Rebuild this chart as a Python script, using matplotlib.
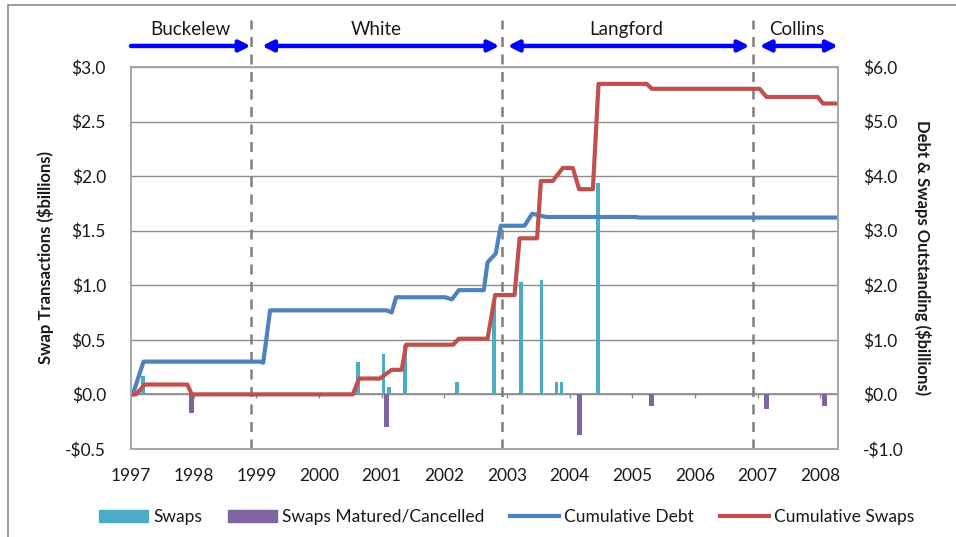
import matplotlib
matplotlib.use("Agg")
import matplotlib.pyplot as plt
from matplotlib.patches import Patch, Rectangle
from matplotlib.lines import Line2D

plt.rcParams['font.family'] = ['Lato', 'DejaVu Sans']

# Swap transactions (left axis, $ billions)
swap_dates = [1997.19, 2000.62, 2001.03, 2001.12, 2001.37, 2002.20, 2002.79,
              2003.22, 2003.55, 2003.79, 2003.87, 2004.45]
swap_vals = [0.17, 0.30, 0.37, 0.07, 0.45, 0.11, 0.85, 1.03, 1.05, 0.11, 0.11, 1.94]

matured_dates = [1997.96, 2001.07, 2004.15, 2005.31, 2007.14, 2008.07]
matured_vals = [-0.17, -0.30, -0.37, -0.11, -0.13, -0.11]

# Outstanding totals (right axis, $ billions)
debt_dates = [1997.03, 1997.20, 1999.06, 1999.11, 1999.22, 2001.08, 2001.16, 2001.23,
              2002.01, 2002.12, 2002.23, 2002.63, 2002.69, 2002.82, 2002.90, 2003.28,
              2003.40, 2003.63, 2005.04, 2005.12, 2008.28]
debt_vals = [0.00, 0.60, 0.60, 0.58, 1.54, 1.54, 1.50, 1.78,
             1.78, 1.74, 1.91, 1.91, 2.42, 2.58, 3.09, 3.09,
             3.31, 3.25, 3.25, 3.24, 3.24]

cum_dates = [1997.03, 1997.08, 1997.22, 1997.90, 1997.97, 2000.54, 2000.64, 2000.97,
             2001.16, 2001.32, 2001.39, 2002.14, 2002.23, 2002.69, 2002.81, 2003.12,
             2003.20, 2003.48, 2003.54, 2003.73, 2003.89, 2004.05, 2004.15, 2004.37,
             2004.46, 2005.23, 2005.31, 2007.03, 2007.14, 2007.96, 2008.04, 2008.28]
cum_vals = [0.00, 0.00, 0.18, 0.18, 0.00, 0.00, 0.29, 0.29,
            0.45, 0.45, 0.91, 0.91, 1.02, 1.02, 1.82, 1.82,
            2.86, 2.86, 3.91, 3.91, 4.15, 4.15, 3.76, 3.76,
            5.69, 5.69, 5.60, 5.60, 5.45, 5.45, 5.33, 5.33]

years = list(range(1997, 2009))
terms = ["Buckelew", "White", "Langford", "Collins"]
term_breaks = [1998.92, 2002.92, 2006.92]
term_spans = [(1997.0, 1998.91), (1999.09, 2002.88), (2003.01, 2006.87), (2007.03, 2008.28)]
term_label_x = [1997.94, 2000.91, 2004.91, 2007.62]

c_swap = '#4BACC6'
c_mat = '#8064A2'
c_debt = '#4F81BD'
c_cum = '#C0504D'
grid_c = '#8C8C8C'
txt_c = '#1a1a1a'

fig = plt.figure(figsize=(9.56, 5.37), dpi=100)
ax = fig.add_axes([0.137, 0.164, 0.7395, 0.7113])
ax2 = ax.twinx()

# frame round the chart (only top and left edges visible in reference)
fig.patches.append(Rectangle((8 / 956, -0.1), 1.2, 1.1 - 5 / 537, transform=fig.transFigure,
                             fill=False, edgecolor='#8a8a8a', lw=1.2))

ax.bar(swap_dates, swap_vals, width=0.06, color=c_swap, zorder=3)
ax.bar(matured_dates, matured_vals, width=0.08, color=c_mat, zorder=3)

ax2.plot(debt_dates, debt_vals, color=c_debt, lw=3.0, solid_joinstyle='round')
ax2.plot(cum_dates, cum_vals, color=c_cum, lw=3.0, solid_joinstyle='round')

ax.set_xlim(1997.0, 2008.28)
ax.set_ylim(-0.5, 3.0)
ax2.set_ylim(-1.0, 6.0)
ax.set_yticks([-0.5, 0, 0.5, 1.0, 1.5, 2.0, 2.5, 3.0])
ax2.set_yticks([-1, 0, 1, 2, 3, 4, 5, 6])


def money(v, pos=None):
    return f"-${-v:.1f}" if v < 0 else f"${v:.1f}"


ax.yaxis.set_major_formatter(money)
ax2.yaxis.set_major_formatter(money)
ax.grid(axis='y', color=grid_c, lw=1.0, zorder=0)
ax.set_axisbelow(True)
ax.axhline(0, color=grid_c, lw=1.2, zorder=1)

ax.set_xticks(years)
ax.set_xticklabels([str(y) for y in years])
ax.tick_params(axis='x', length=0, pad=14, labelsize=12.5, labelcolor=txt_c)
ax.tick_params(axis='y', length=0, pad=18, labelsize=12.5, labelcolor=txt_c)
ax2.tick_params(axis='y', length=0, pad=18, labelsize=12.5, labelcolor=txt_c)
ax.vlines(years[1:], -0.035, 0, color=grid_c, lw=1.0, zorder=1)

for a in (ax, ax2):
    for s in a.spines.values():
        s.set_color('#a6a6a6')
        s.set_linewidth(1.2)

ax.set_ylabel("Swap Transactions ($billions)", fontsize=12, fontweight='bold',
              color=txt_c, labelpad=8)
ax2.set_ylabel("Debt & Swaps Outstanding ($billions)", fontsize=12, fontweight='bold',
               color=txt_c, rotation=270, labelpad=20)

# term boundaries and labels
for xb in term_breaks:
    ax.axvline(xb, ymin=0, ymax=1.123, color='#7f7f7f', lw=1.8, ls=(0, (4, 3)),
               clip_on=False, zorder=4)

for i, (name, (x0, x1), xl) in enumerate(zip(terms, term_spans, term_label_x)):
    style = '-|>' if i == 0 else '<|-|>'
    ax.annotate('', xy=(x1, 1.055), xytext=(x0, 1.055),
                xycoords=ax.get_xaxis_transform(), textcoords=ax.get_xaxis_transform(),
                arrowprops=dict(arrowstyle=style, color='#0000FF', lw=3.2,
                                mutation_scale=16, shrinkA=0, shrinkB=0),
                annotation_clip=False)
    ax.text(xl, 1.075, name, transform=ax.get_xaxis_transform(), ha='center',
            va='bottom', fontsize=13.5, color=txt_c)

handles = [Patch(color=c_swap), Patch(color=c_mat),
           Line2D([], [], color=c_debt, lw=3.0), Line2D([], [], color=c_cum, lw=3.0)]
labels = ["Swaps", "Swaps Matured/Cancelled", "Cumulative Debt", "Cumulative Swaps"]
fig.legend(handles, labels, loc='center', bbox_to_anchor=(0.53, 0.037), ncol=4,
           frameon=False, fontsize=12.5, handlelength=2.8, handleheight=0.6,
           columnspacing=1.5, handletextpad=0.3, labelcolor=txt_c)

fig.savefig("out.png", dpi=100)
